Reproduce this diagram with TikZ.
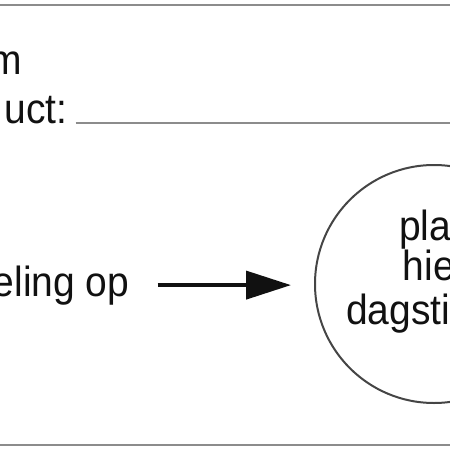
\documentclass[tikz,border=0pt]{standalone}
\usepackage{fontspec}
\setmainfont{Liberation Sans}
\usepackage{xcolor}
\usepackage{graphicx}
\definecolor{ink}{HTML}{111111}
\definecolor{rule}{HTML}{8C8C8C}
\definecolor{rim}{HTML}{454545}
\usetikzlibrary{arrows.meta, positioning}
\newcommand{\tallword}[1]{\scalebox{1}[1.08]{#1}}
\tikzset{
  formtext/.style={font=\fontsize{39}{47}\selectfont, text=ink, inner sep=0pt},
  rulebar/.style={draw=rule, line width=2.5pt},
  flow/.style={-{Triangle[length=45pt, width=28pt]}, line width=4pt, color=ink},
  stamp/.style={circle, draw=rim, line width=2pt, minimum size=238pt, inner sep=0pt},
}
\begin{document}
\begin{tikzpicture}[x=1pt, y=-1pt]
  \clip (0,0) rectangle (450,450);

  % frame of the form
  \draw[rulebar] (0,5) -- (450,5);
  \draw[rulebar] (0,445) -- (450,445);

  % fields on the left
  \node[formtext, anchor=base east] (name) at (22.5,74) {\tallword{m}};
  \node[formtext, anchor=base east] (product) at (67.5,123) {\tallword{uct:}};
  \draw[rulebar, line width=2pt] ([xshift=8pt]product.base east) -- ++(400,0);

  \node[formtext, anchor=base east] (send) at (129.5,296) {\tallword{eling op}};

  % stamp circle
  \node[stamp] (stamp) at (434,284) {};
  \node[formtext, anchor=base west] (l1) at (399,240) {\tallword{pla}};
  \node[formtext, anchor=base west] (l2) at (402.5,280) {\tallword{hie}};
  \node[formtext, anchor=base west] (l3) at (346,324) {\tallword{dagsti}};

  \draw[flow, shorten <=28pt, shorten >=23pt] (send.east) -- (send.east -| stamp.west);
\end{tikzpicture}
\end{document}
